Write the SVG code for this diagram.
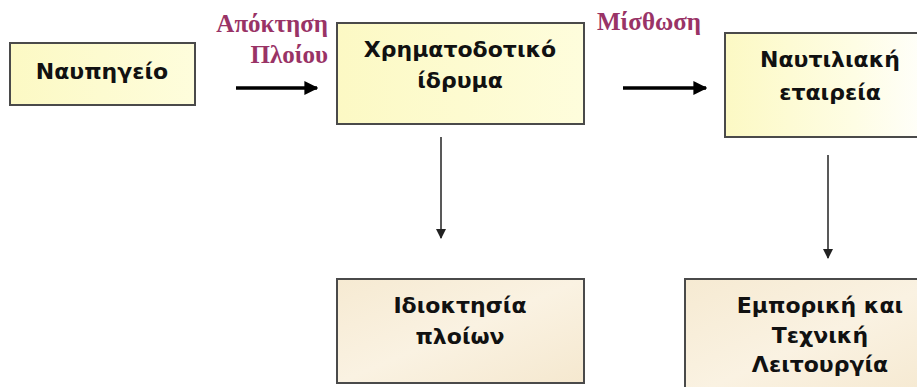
<svg xmlns="http://www.w3.org/2000/svg" width="917" height="387" viewBox="0 0 917 387">
<defs>
<style>
.box{stroke:#4a4a4a;stroke-width:2}
.nt{font-family:"DejaVu Sans","Liberation Sans",sans-serif;font-weight:bold;font-size:22px;fill:#111;text-anchor:middle}
.lbl{font-family:"Liberation Serif","DejaVu Serif",serif;font-weight:bold;font-size:25px;fill:#993366}
.thick{stroke:#000;stroke-width:3.5;fill:none}
.thin{stroke:#222;stroke-width:1.5;fill:none}
</style>
<linearGradient id="gy" x1="0" y1="0" x2="1" y2="0">
<stop offset="0" stop-color="#FCF9C4"/>
<stop offset="0.6" stop-color="#FEFDE4"/>
<stop offset="1" stop-color="#FFFFFF"/>
</linearGradient>
<linearGradient id="gy1" x1="0" y1="0" x2="1" y2="0">
<stop offset="0" stop-color="#FCF9C4"/>
<stop offset="1" stop-color="#FEFDDC"/>
</linearGradient>
<linearGradient id="gb" x1="0" y1="0" x2="1" y2="1">
<stop offset="0" stop-color="#F6EAD2"/>
<stop offset="0.5" stop-color="#FAF2E2"/>
<stop offset="1" stop-color="#F5E8CF"/>
</linearGradient>
<marker id="ahT" viewBox="0 0 10 10" refX="9" refY="5" markerWidth="4" markerHeight="4" orient="auto" markerUnits="strokeWidth">
<path d="M0,0 L10,5 L0,10 z" fill="#000"/>
</marker>
<marker id="ahV" viewBox="0 0 10 10" refX="9" refY="5" markerWidth="7" markerHeight="7" orient="auto" markerUnits="strokeWidth">
<path d="M0,0 L10,5 L0,10 z" fill="#222"/>
</marker>
</defs>

<g id="connectors">
<line class="thick" x1="236" y1="88" x2="317" y2="88" marker-end="url(#ahT)"/>
<line class="thick" x1="623" y1="88" x2="706" y2="88" marker-end="url(#ahT)"/>
<line class="thin" x1="441" y1="137" x2="441" y2="238" marker-end="url(#ahV)"/>
<line class="thin" x1="828" y1="155" x2="828" y2="258" marker-end="url(#ahV)"/>
<text class="lbl" x="328" y="32" text-anchor="end">Απόκτηση</text>
<text class="lbl" x="328" y="63" text-anchor="end">Πλοίου</text>
<text class="lbl" x="597" y="30">Μίσθωση</text>
</g>

<g id="naupigeio">
<rect class="box" x="10" y="43" width="185" height="62" fill="url(#gy1)"/>
<text class="nt" x="102" y="79">Ναυπηγείο</text>
</g>

<g id="xrimatodotiko">
<rect class="box" x="337" y="23" width="247" height="101" fill="url(#gy1)"/>
<text class="nt" x="460" y="57">Χρηματοδοτικό</text>
<text class="nt" x="460" y="88">ίδρυμα</text>
</g>

<g id="nautiliaki">
<rect class="box" x="725" y="33" width="215" height="104" fill="url(#gy)"/>
<text class="nt" x="830" y="67">Ναυτιλιακή</text>
<text class="nt" x="830" y="100">εταιρεία</text>
</g>

<g id="idioktisia">
<rect class="box" x="337" y="279" width="247" height="104" fill="url(#gb)"/>
<text class="nt" x="460" y="313">Ιδιοκτησία</text>
<text class="nt" x="460" y="344">πλοίων</text>
</g>

<g id="emporiki">
<rect class="box" x="685" y="279" width="260" height="120" fill="url(#gb)"/>
<text class="nt" x="820" y="313">Εμπορική και</text>
<text class="nt" x="820" y="343">Τεχνική</text>
<text class="nt" x="820" y="372">Λειτουργία</text>
</g>
</svg>
